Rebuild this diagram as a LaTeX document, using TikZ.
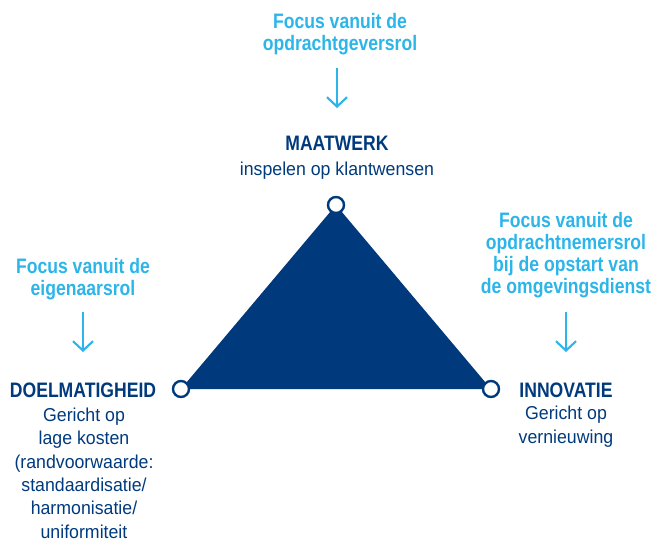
\documentclass[tikz,border=0pt]{standalone}
\usepackage{fontspec}
\setmainfont{Liberation Sans}
\newfontfamily\headf{Liberation Sans}[FakeStretch=0.84]
\newfontfamily\bodyf{Liberation Sans}[FakeStretch=0.95]
\usetikzlibrary{arrows.meta}
\definecolor{dblue}{HTML}{003A7D}
\definecolor{lblue}{HTML}{2CB5E9}
\tikzset{
  focus/.style={text=lblue, font=\headf\fontsize{15.7}{16.5}\selectfont\bfseries, align=center, inner sep=0pt, anchor=base},
  head/.style={text=dblue, font=\headf\fontsize{15.7}{16.5}\selectfont\bfseries, align=center, inner sep=0pt, anchor=base},
  body/.style={text=dblue, font=\bodyf\fontsize{14}{17.5}\selectfont, align=center, inner sep=0pt, anchor=base},
  arr/.style={draw=lblue, line width=1.6pt, -{Straight Barb[length=7pt, width=15pt, line width=1.6pt]}},
  vtx/.style={circle, draw=dblue, fill=white, line width=1.8pt, minimum size=12pt, inner sep=0pt}
}
\begin{document}
\begin{tikzpicture}[x=0.75pt,y=-0.75pt]
\useasboundingbox (0,0) rectangle (654,547);
% vertices
\coordinate (pt) at (336,205);
\coordinate (pl) at (181,389);
\coordinate (pr) at (491,389);
\fill[dblue] (pt) -- (pl) -- (pr) -- cycle;
\node[vtx] (ct) at (pt) {};
\node[vtx] (cl) at (pl) {};
\node[vtx] (cr) at (pr) {};
% top
\node[focus] (ftop) at (340,50) {Focus vanuit de\\opdrachtgeversrol};
\coordinate (t1) at (337,68);
\coordinate (t2) at (337,108);
\draw[arr] (t1) -- (t2);
\node[head] (htop) at (337,150) {MAATWERK};
\node[body] (btop) at (337,175) {inspelen op klantwensen};
% left
\node[focus] (fleft) at (83,295) {Focus vanuit de\\eigenaarsrol};
\coordinate (l1) at (83,312);
\coordinate (l2) at (83,352);
\draw[arr] (l1) -- (l2);
\node[head] (hleft) at (83,397) {DOELMATIGHEID};
\node[body] (bleft) at (84,538) {Gericht op\\lage kosten\\(randvoorwaarde:\\standaardisatie/\\harmonisatie/\\uniformiteit};
% right
\node[focus] (fright) at (566,293) {Focus vanuit de\\opdrachtnemersrol\\bij de opstart van\\de omgevingsdienst};
\coordinate (r1) at (566,312);
\coordinate (r2) at (566,352);
\draw[arr] (r1) -- (r2);
\node[head] (hright) at (566,397) {INNOVATIE};
\node[body] (bright) at (566,443) {Gericht op\\vernieuwing};
\end{tikzpicture}
\end{document}
